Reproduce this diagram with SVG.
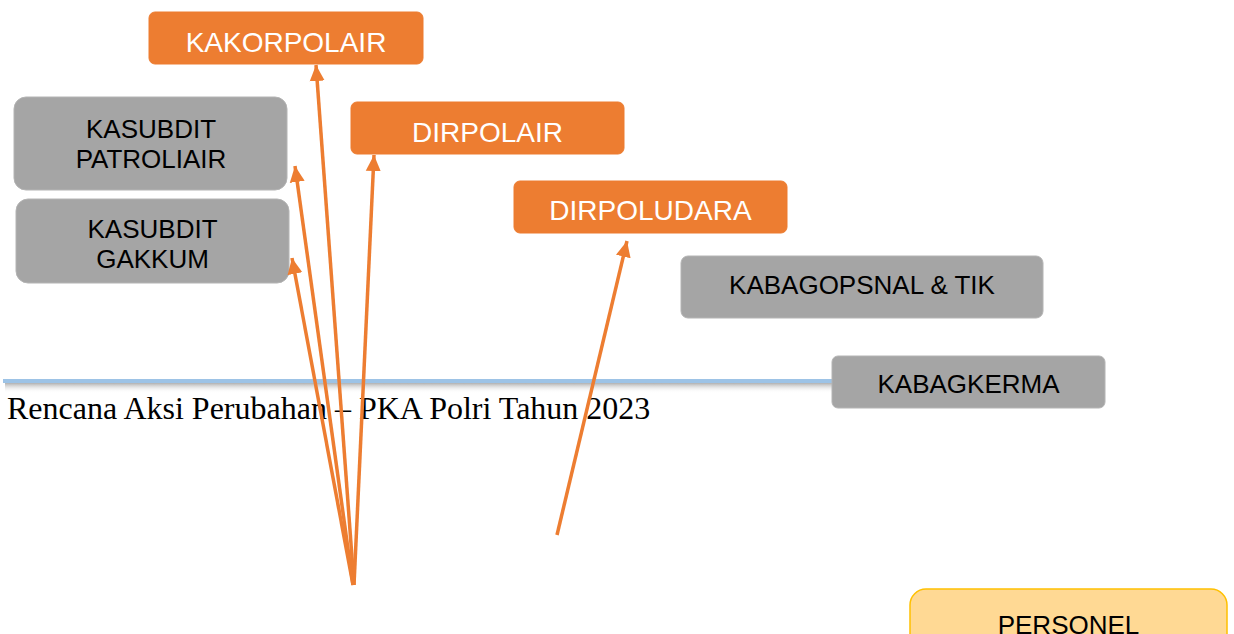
<svg xmlns="http://www.w3.org/2000/svg" width="1234" height="634" viewBox="0 0 1234 634">
<style>
.org{fill:#ED7D31;stroke:#ED7D31;stroke-width:1}
.gry{fill:#A5A5A5;stroke:#B4B4B4;stroke-width:1}
.per{fill:#FFD994;stroke:#FFC000;stroke-width:1.5}
.tw{font-family:"Liberation Sans",Arial,sans-serif;font-size:28px;fill:#FFFFFF;text-anchor:middle}
.tb{font-family:"Liberation Sans",Arial,sans-serif;font-size:26px;fill:#000000;text-anchor:middle}
.ar{stroke:#ED7D31;stroke-width:3.5;fill:none;marker-end:url(#ah)}
</style>
<defs>
<marker id="ah" markerUnits="userSpaceOnUse" markerWidth="18" markerHeight="18" refX="16" refY="8" orient="auto">
<path d="M0,0.5 L16,8 L0,15.5 Z" fill="#ED7D31"/>
</marker>
<linearGradient id="sh" x1="0" y1="0" x2="0" y2="1">
<stop offset="0" stop-color="#B0B0B0"/>
<stop offset="1" stop-color="#FFFFFF" stop-opacity="0"/>
</linearGradient>
</defs>
<rect width="1234" height="634" fill="#FFFFFF"/>
<g id="header">
<rect x="5" y="383" width="827" height="10" fill="url(#sh)"/>
<line x1="3" y1="381" x2="832" y2="381" stroke="#9DC3E6" stroke-width="4"/>
<text x="7" y="419" font-family="'Liberation Serif','Times New Roman',serif" font-size="32" fill="#000000">Rencana Aksi Perubahan – PKA Polri Tahun 2023</text>
</g>
<g id="kakorpolair"><rect class="org" x="149" y="12" width="274" height="52" rx="6"/><text class="tw" x="286" y="52">KAKORPOLAIR</text></g>
<g id="kasubdit-patroliair"><rect class="gry" x="14" y="97" width="273" height="93" rx="12"/><text class="tb" x="151" y="138">KASUBDIT</text><text class="tb" x="151" y="168">PATROLIAIR</text></g>
<g id="kasubdit-gakkum"><rect class="gry" x="16" y="199" width="273" height="84" rx="12"/><text class="tb" x="152.5" y="238">KASUBDIT</text><text class="tb" x="152.5" y="268">GAKKUM</text></g>
<g id="dirpolair"><rect class="org" x="351" y="102" width="273" height="52" rx="6"/><text class="tw" x="487.5" y="142">DIRPOLAIR</text></g>
<g id="dirpoludara"><rect class="org" x="514" y="181" width="273" height="52" rx="6"/><text class="tw" x="650.5" y="220">DIRPOLUDARA</text></g>
<g id="kabagopsnal"><rect class="gry" x="681" y="256" width="362" height="62" rx="7"/><text class="tb" x="862" y="294">KABAGOPSNAL &amp; TIK</text></g>
<g id="kabagkerma"><rect class="gry" x="832" y="356" width="273" height="52" rx="6"/><text class="tb" x="968.5" y="393">KABAGKERMA</text></g>
<g id="personel"><rect class="per" x="910" y="589" width="317" height="80" rx="16"/><text class="tb" x="1068.5" y="634">PERSONEL</text></g>
<g id="connectors">
<line class="ar" x1="354" y1="585" x2="316" y2="65"/>
<line class="ar" x1="354" y1="585" x2="374" y2="155"/>
<line class="ar" x1="353" y1="585" x2="295" y2="166"/>
<line class="ar" x1="353" y1="585" x2="292" y2="258"/>
<line class="ar" x1="557" y1="535" x2="627" y2="241"/>
</g>
</svg>
